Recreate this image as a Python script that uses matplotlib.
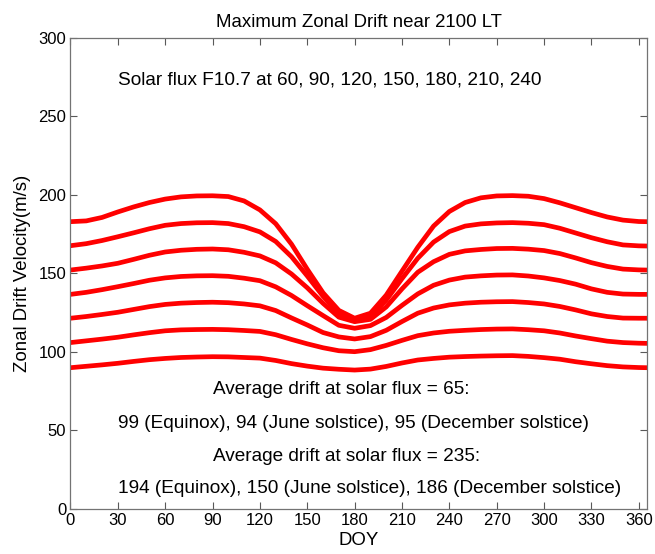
import numpy as np
import matplotlib
matplotlib.use("Agg")
import matplotlib.pyplot as plt

plt.rcParams['font.family'] = ['Liberation Sans', 'DejaVu Sans']

doy = [0, 10, 20, 30, 40, 50, 60, 70, 80, 90, 100, 110, 120, 130, 140, 150, 160, 170, 180,
       190, 200, 210, 220, 230, 240, 250, 260, 270, 280, 290, 300, 310, 320, 330, 340, 350, 360, 365]

# drift velocity (m/s) for each solar flux level
flux_240 = [182.8, 183.3, 185.5, 189.0, 192.2, 195.0, 197.2, 198.6, 199.2, 199.3, 198.8, 196.0, 190.3,
            181.5, 168.5, 152.5, 137.5, 126.3, 121.3, 124.5, 136.0, 151.3, 166.5, 180.0, 189.3,
            195.0, 198.0, 199.2, 199.4, 199.0, 197.5, 194.8, 191.7, 188.6, 185.8, 183.8, 182.9, 182.8]
flux_210 = [167.5, 168.8, 170.8, 173.2, 175.7, 178.3, 180.5, 181.6, 182.1, 182.2, 181.6, 179.6, 176.3,
            170.2, 160.5, 148.2, 135.3, 124.2, 120.2, 122.5, 132.8, 146.5, 159.5, 169.8, 176.5,
            180.0, 181.4, 182.0, 182.2, 181.8, 180.9, 178.6, 175.6, 172.6, 170.0, 168.0, 167.4, 167.3]
flux_180 = [152.0, 153.2, 154.6, 156.3, 158.8, 161.4, 163.5, 164.6, 165.2, 165.4, 164.9, 163.3, 161.0,
            156.6, 149.5, 140.7, 130.8, 122.0, 119.1, 120.6, 128.5, 140.0, 150.6, 157.3, 162.0,
            164.2, 165.1, 165.7, 165.8, 165.3, 164.4, 162.5, 159.7, 156.7, 154.3, 152.6, 152.1, 152.0]
flux_150 = [136.5, 137.8, 139.5, 141.4, 143.4, 145.5, 147.0, 147.9, 148.3, 148.4, 148.0, 146.8, 145.2,
            141.3, 135.8, 129.3, 123.0, 116.8, 114.9, 116.6, 121.8, 129.5, 136.8, 142.3, 145.6,
            147.5, 148.3, 148.8, 148.9, 148.2, 147.0, 145.3, 143.0, 140.0, 137.8, 136.7, 136.5, 136.5]
flux_120 = [121.3, 122.4, 123.7, 125.1, 126.9, 128.7, 130.1, 130.9, 131.3, 131.5, 131.2, 130.4, 129.2,
            126.2, 121.5, 117.0, 112.2, 109.4, 108.1, 109.6, 113.6, 119.2, 124.5, 127.8, 129.8,
            130.9, 131.5, 131.8, 131.9, 131.3, 130.4, 128.8, 126.6, 124.1, 122.4, 121.4, 121.3, 121.3]
flux_90 = [105.8, 106.9, 108.0, 109.2, 110.7, 112.1, 113.3, 113.9, 114.1, 114.2, 114.0, 113.5, 112.9,
           110.8, 107.8, 105.0, 102.5, 100.6, 100.0, 101.3, 104.0, 107.2, 110.2, 111.9, 113.0,
           113.6, 114.1, 114.4, 114.5, 114.0, 113.3, 111.9, 110.0, 108.3, 106.7, 105.8, 105.4, 105.3]
flux_60 = [89.8, 90.7, 91.6, 92.6, 93.8, 94.9, 95.7, 96.3, 96.6, 96.8, 96.7, 96.3, 95.9,
           94.4, 92.4, 90.8, 89.5, 88.8, 88.3, 88.9, 90.6, 92.8, 94.7, 95.7, 96.5,
           96.9, 97.2, 97.4, 97.5, 97.0, 96.2, 95.2, 93.6, 92.3, 91.1, 90.3, 89.9, 89.8]

curves = [flux_60, flux_90, flux_120, flux_150, flux_180, flux_210, flux_240]

xticks = list(range(0, 361, 30))
yticks = list(range(0, 301, 50))

fig = plt.figure(figsize=(6.55, 5.54), dpi=100)
ax = fig.add_axes([0.1076, 0.0818, 0.8797, 0.8502])

for v in curves:
    ax.plot(doy, v, color='#ff0000', lw=3.4, solid_joinstyle='round')

ax.set_xlim(0, 365)
ax.set_ylim(0, 300)
ax.set_xticks(xticks)
ax.set_yticks(yticks)
ax.tick_params(direction='in', top=True, right=True, labelsize=12,
               length=5, width=0.8, color='0.35', pad=3)
for s in ax.spines.values():
    s.set_color('0.45')
    s.set_linewidth(0.9)

ax.set_title('Maximum Zonal Drift near 2100 LT', fontsize=13.4, pad=8)
ax.set_xlabel('DOY', fontsize=13.4, labelpad=3)
ax.set_ylabel('Zonal Drift Velocity(m/s)', fontsize=13.4, labelpad=5)

fs = 13.7
ax.text(30, 273, 'Solar flux F10.7 at 60, 90, 120, 150, 180, 210, 240',
        fontsize=fs, va='center')
ax.text(90, 76, 'Average drift at solar flux = 65:', fontsize=fs, va='center')
ax.text(30, 54.5, '99 (Equinox), 94 (June solstice), 95 (December solstice)',
        fontsize=fs, va='center')
ax.text(90, 33.5, 'Average drift at solar flux = 235:', fontsize=fs, va='center')
ax.text(30, 13, '194 (Equinox), 150 (June solstice), 186 (December solstice)',
        fontsize=fs, va='center')

fig.savefig('out.png', dpi=100)
